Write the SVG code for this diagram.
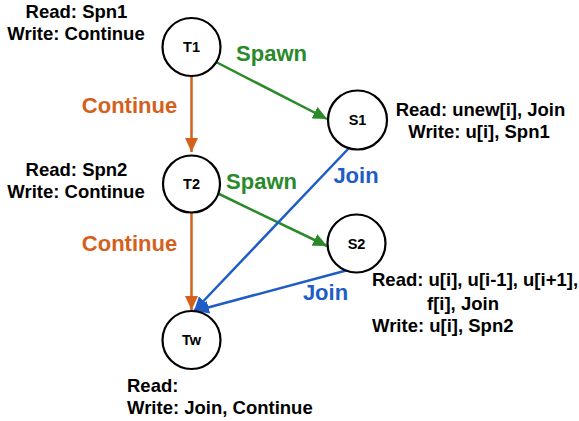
<svg xmlns="http://www.w3.org/2000/svg" width="579" height="421" viewBox="0 0 579 421">
<style>
.node circle{fill:#fff;stroke:#000;stroke-width:2.2}
.nl{font-family:"Liberation Sans",Arial,sans-serif;font-weight:bold;font-size:14.5px;fill:#000;text-anchor:middle}
.t{font-family:"Liberation Sans",Arial,sans-serif;font-weight:bold;font-size:18.5px;fill:#000}
.el{font-family:"Liberation Sans",Arial,sans-serif;font-weight:bold;font-size:22px}
.or{stroke:#D4601B;fill:none;stroke-width:2.5}
.gr{stroke:#2A8A2A;fill:none;stroke-width:2.5}
.bl{stroke:#1E5DC6;fill:none;stroke-width:2.5}
</style>
<defs>
<marker id="ao" markerUnits="userSpaceOnUse" markerWidth="15" markerHeight="13" refX="14" refY="6.5" orient="auto"><path d="M0,0 L14,6.5 L0,13 Z" fill="#D4601B"/></marker>
<marker id="ag" markerUnits="userSpaceOnUse" markerWidth="15" markerHeight="13" refX="14" refY="6.5" orient="auto"><path d="M0,0 L14,6.5 L0,13 Z" fill="#2A8A2A"/></marker>
<marker id="ab" markerUnits="userSpaceOnUse" markerWidth="15" markerHeight="13" refX="14" refY="6.5" orient="auto"><path d="M0,0 L14,6.5 L0,13 Z" fill="#1E5DC6"/></marker>
</defs>
<g id="connectors">
<line class="or" x1="191.5" y1="76" x2="191.5" y2="152" marker-end="url(#ao)"/>
<line class="or" x1="191.5" y1="212" x2="191.5" y2="310" marker-end="url(#ao)"/>
<line class="gr" x1="216" y1="62" x2="327" y2="119" marker-end="url(#ag)"/>
<line class="gr" x1="215" y1="192" x2="327" y2="246" marker-end="url(#ag)"/>
<line class="bl" x1="349" y1="148" x2="194" y2="311" marker-end="url(#ab)"/>
<line class="bl" x1="348" y1="270" x2="195" y2="311" marker-end="url(#ab)"/>
<text class="el" x="129.5" y="113" fill="#D4601B" text-anchor="middle">Continue</text>
<text class="el" x="129.5" y="251" fill="#D4601B" text-anchor="middle">Continue</text>
<text class="el" x="271.5" y="61" fill="#2A8A2A" text-anchor="middle">Spawn</text>
<text class="el" x="261.5" y="189" fill="#2A8A2A" text-anchor="middle">Spawn</text>
<text class="el" x="356" y="183" fill="#1E5DC6" text-anchor="middle">Join</text>
<text class="el" x="325.5" y="300" fill="#1E5DC6" text-anchor="middle">Join</text>
</g>
<g id="T1" class="node">
<circle cx="191.5" cy="47" r="29"/>
<text class="nl" x="191.5" y="52">T1</text>
<text class="t" x="76.5" y="18" text-anchor="middle">Read: Spn1</text>
<text class="t" x="76" y="40" text-anchor="middle">Write: Continue</text>
</g>
<g id="T2" class="node">
<circle cx="191.5" cy="184" r="28.5"/>
<text class="nl" x="191.5" y="189">T2</text>
<text class="t" x="76.5" y="176" text-anchor="middle">Read: Spn2</text>
<text class="t" x="76" y="198" text-anchor="middle">Write: Continue</text>
</g>
<g id="S1" class="node">
<circle cx="357.5" cy="120" r="29.5"/>
<text class="nl" x="357.5" y="125">S1</text>
<text class="t" x="480.5" y="116" text-anchor="middle">Read: unew[i], Join</text>
<text class="t" x="479" y="138" text-anchor="middle">Write: u[i], Spn1</text>
</g>
<g id="S2" class="node">
<circle cx="356.5" cy="243.5" r="29"/>
<text class="nl" x="356.5" y="248.5">S2</text>
<text class="t" x="372" y="286">Read: u[i], u[i-1], u[i+1],</text>
<text class="t" x="427" y="310">f[i], Join</text>
<text class="t" x="372" y="332">Write: u[i], Spn2</text>
</g>
<g id="Tw" class="node">
<circle cx="191.5" cy="340" r="29"/>
<text class="nl" x="191.5" y="345">Tw</text>
<text class="t" x="127" y="392">Read:</text>
<text class="t" x="127" y="414">Write: Join, Continue</text>
</g>
</svg>
